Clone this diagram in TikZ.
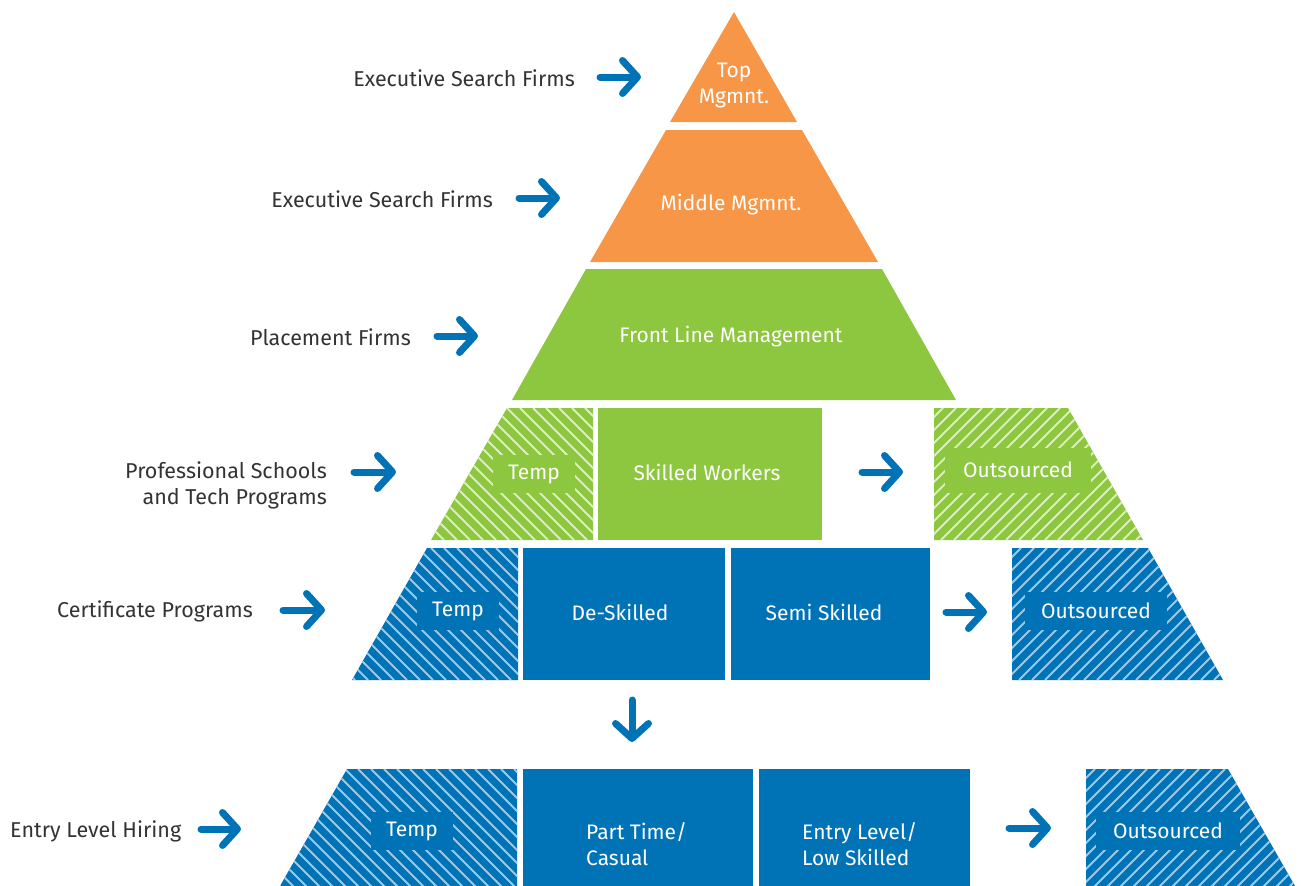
\documentclass[tikz,border=0pt]{standalone}
\usepackage{fontspec}
\setmainfont{Fira Sans}
\usetikzlibrary{arrows.meta}
\definecolor{orng}{HTML}{F79646}
\definecolor{grn}{HTML}{8DC63F}
\definecolor{blu}{HTML}{0073B7}
\definecolor{txt}{HTML}{333333}
\definecolor{ghatch}{HTML}{DCEEBE}
\definecolor{bhatch}{HTML}{9CC8E6}
\begin{document}
\begin{tikzpicture}[x=1pt,y=-1pt,
  lbl/.style={font=\fontsize{21.5}{26}\selectfont, text=txt, inner sep=0pt},
  intxt/.style={font=\fontsize{21}{26}\selectfont, text=white, inner sep=0pt},
  arr/.style={draw=blu, line width=7pt, line cap=round,
    -{Straight Barb[length=15pt,width=33pt,round]}},
  hl/.style={line width=2pt},
  lblbox/.style={intxt, minimum height=38pt},
]
\useasboundingbox (0,0) rectangle (1301,886);

% ---- pyramid levels ----
\fill[orng] (734,12) -- (797,122) -- (670,122) -- cycle;
\fill[orng] (666,130) -- (802,130) -- (878,262) -- (590,262) -- cycle;
\fill[grn] (586,269) -- (882,269) -- (956,400) -- (512,400) -- cycle;

% row 4
\fill[grn] (507,408) -- (593,408) -- (593,540) -- (431,540) -- cycle;
\begin{scope}
  \clip (507,408) -- (593,408) -- (593,540) -- (431,540) -- cycle;
  \foreach \x in {286,299,...,600} \draw[hl, ghatch] (\x,408) -- ++(132,132);
\end{scope}
\fill[grn] (598,408) rectangle (822,540);
\fill[grn] (934,408) -- (1068,408) -- (1143,540) -- (934,540) -- cycle;
\begin{scope}
  \clip (934,408) -- (1068,408) -- (1143,540) -- (934,540) -- cycle;
  \foreach \x in {930,943,...,1290} \draw[hl, ghatch] (\x,408) -- ++(-132,132);
\end{scope}

% row 5
\fill[blu] (427,548) -- (518,548) -- (518,680) -- (352,680) -- cycle;
\begin{scope}
  \clip (427,548) -- (518,548) -- (518,680) -- (352,680) -- cycle;
  \foreach \x in {210,223,...,525} \draw[hl, bhatch] (\x,548) -- ++(132,132);
\end{scope}
\fill[blu] (523,548) rectangle (725,680);
\fill[blu] (731,548) rectangle (930,680);
\fill[blu] (1012,548) -- (1148,548) -- (1223,680) -- (1012,680) -- cycle;
\begin{scope}
  \clip (1012,548) -- (1148,548) -- (1223,680) -- (1012,680) -- cycle;
  \foreach \x in {1008,1021,...,1370} \draw[hl, bhatch] (\x,548) -- ++(-132,132);
\end{scope}

% row 6
\fill[blu] (347,769) -- (517,769) -- (517,886) -- (280,886) -- cycle;
\begin{scope}
  \clip (347,769) -- (517,769) -- (517,886) -- (280,886) -- cycle;
  \foreach \x in {150,163,...,525} \draw[hl, bhatch] (\x,769) -- ++(120,120);
\end{scope}
\fill[blu] (523,769) rectangle (753,886);
\fill[blu] (759,769) rectangle (970,886);
\fill[blu] (1086,769) -- (1228,769) -- (1295,886) -- (1086,886) -- cycle;
\begin{scope}
  \clip (1086,769) -- (1228,769) -- (1295,886) -- (1086,886) -- cycle;
  \foreach \x in {1082,1095,...,1430} \draw[hl, bhatch] (\x,769) -- ++(-120,120);
\end{scope}

% ---- texts inside pyramid ----
\node[intxt, align=center] (top) at (734,86) {Top\\Mgmnt.};
\node[intxt] (mid) at (731,205) {Middle Mgmnt.};
\node[intxt] (flm) at (731,337) {Front Line Management};

\node[lblbox, fill=grn, minimum width=82pt] (temp4) at (534,474) {Temp};
\node[intxt] (skw) at (707,472) {Skilled Workers};
\node[lblbox, fill=grn, minimum width=146pt, minimum height=45pt] (out4) at (1018,470) {Outsourced};

\node[lblbox, fill=blu, minimum width=82pt] (temp5) at (458,611) {Temp};
\node[intxt] (desk) at (620,612) {De-Skilled};
\node[intxt] (semi) at (824,612) {Semi Skilled};
\node[lblbox, fill=blu, minimum width=142pt] (out5) at (1096,611) {Outsourced};

\node[lblbox, fill=blu, minimum width=82pt] (temp6) at (412,831) {Temp};
\node[intxt, align=left, anchor=west] (ptc) at (586,844) {Part Time/\\Casual};
\node[intxt, align=left, anchor=west] (ent) at (802,844) {Entry Level/\\Low Skilled};
\node[lblbox, fill=blu, minimum width=144pt] (out6) at (1168,831) {Outsourced};

% ---- side labels ----
\node[lbl, anchor=east] (esf1) at (575,78) {Executive Search Firms};
\node[lbl, anchor=east] (esf2) at (493,199) {Executive Search Firms};
\node[lbl, anchor=east] (plf) at (411,337) {Placement Firms};
\node[lbl, anchor=east, align=right] (pst) at (327,485) {Professional Schools\\and Tech Programs};
\node[lbl, anchor=east] (cep) at (253,611) {Certificate Programs};
\node[lbl, anchor=west] (elh) at (10,831) {Entry Level Hiring};

% ---- arrows ----
\coordinate (a1s) at (600,77);  \coordinate (a1e) at (641,77);
\coordinate (a2s) at (519,198); \coordinate (a2e) at (560,198);
\coordinate (a3s) at (437,336); \coordinate (a3e) at (478,336);
\coordinate (a4s) at (354,472); \coordinate (a4e) at (396,472);
\coordinate (a5s) at (283,610); \coordinate (a5e) at (325,610);
\coordinate (a6s) at (201,829); \coordinate (a6e) at (241,829);
\coordinate (r4s) at (862,472); \coordinate (r4e) at (903,472);
\coordinate (r5s) at (946,612); \coordinate (r5e) at (987,612);
\coordinate (r6s) at (1009,828); \coordinate (r6e) at (1051,828);
\coordinate (ds) at (632,700); \coordinate (de) at (632,742);

\draw[arr] (a1s) -- (a1e);
\draw[arr] (a2s) -- (a2e);
\draw[arr] (a3s) -- (a3e);
\draw[arr] (a4s) -- (a4e);
\draw[arr] (a5s) -- (a5e);
\draw[arr] (a6s) -- (a6e);
\draw[arr] (r4s) -- (r4e);
\draw[arr] (r5s) -- (r5e);
\draw[arr] (r6s) -- (r6e);
\draw[arr] (ds) -- (de);
\end{tikzpicture}
\end{document}
